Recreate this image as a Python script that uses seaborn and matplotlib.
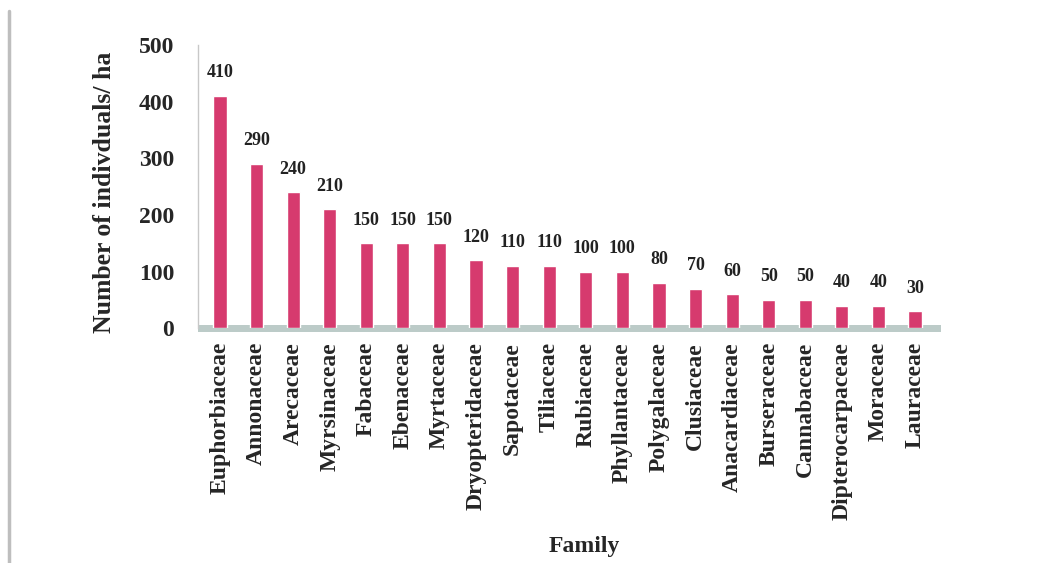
import matplotlib
matplotlib.use("Agg")
import matplotlib.pyplot as plt
import seaborn as sns
import pandas as pd
from matplotlib.patches import Rectangle
from matplotlib.lines import Line2D

families = ["Euphorbiaceae", "Annonaceae", "Arecaceae", "Myrsinaceae", "Fabaceae",
            "Ebenaceae", "Myrtaceae", "Dryopteridaceae", "Sapotaceae", "Tiliaceae",
            "Rubiaceae", "Phyllantaceae", "Polygalaceae", "Clusiaceae", "Anacardiaceae",
            "Burseraceae", "Cannabaceae", "Dipterocarpaceae", "Moraceae", "Lauraceae"]
counts = [410, 290, 240, 210, 150, 150, 150, 120, 110, 110,
          100, 100, 80, 70, 60, 50, 50, 40, 40, 30]
yticks = [0, 100, 200, 300, 400, 500]

sns.set_theme(style="white")
plt.rcParams['font.family'] = ['Liberation Serif', 'DejaVu Serif']

df = pd.DataFrame({"Family": families, "Count": counts})

fig = plt.figure(figsize=(10.61, 5.63), dpi=100)
ax = fig.add_axes([0.1866, 0.417, 0.70, 0.503])

sns.barplot(data=df, x="Family", y="Count", color="#D63A6E", width=0.36,
            saturation=1, ax=ax, zorder=3)

for i, v in enumerate(counts):
    ax.text(i, v + 26, str(v), ha="center", va="bottom", fontsize=13,
            fontweight="bold", color="#222222")

ax.set_ylim(0, 500)
ax.set_xlim(-0.6, 19.7)
ax.set_yticks(yticks)
ax.set_yticklabels([str(t) for t in yticks], fontsize=17, fontweight="bold")
ax.tick_params(axis="y", length=0, pad=17)
ax.tick_params(axis="x", length=0, pad=10)
ax.set_xticks(range(len(families)))
ax.set_xticklabels(families, rotation=90, fontsize=17, fontweight="bold")

ax.set_xlabel("Family", fontsize=17, fontweight="bold")
ax.set_ylabel("Number of indivduals/ ha", fontsize=18.5, fontweight="bold")
ax.xaxis.set_label_coords(0.52, -0.735)
ax.yaxis.set_label_coords(-0.11, 0.48)

for s in ["top", "right", "bottom"]:
    ax.spines[s].set_visible(False)
ax.spines["left"].set_color("#C8C8C8")
ax.spines["left"].set_linewidth(1.0)

# floor band
ax.add_patch(Rectangle((0, -0.012), 1.0, 0.022, transform=ax.transAxes,
                       facecolor="#BCCBC8", edgecolor="none", clip_on=False, zorder=2))

# frame line at left
fig.add_artist(Line2D([0.0085, 0.0085], [0.0, 0.98], color="#BEBEBE", lw=2.5,
                      transform=fig.transFigure))

fig.savefig("out.png", dpi=100, facecolor="white")
